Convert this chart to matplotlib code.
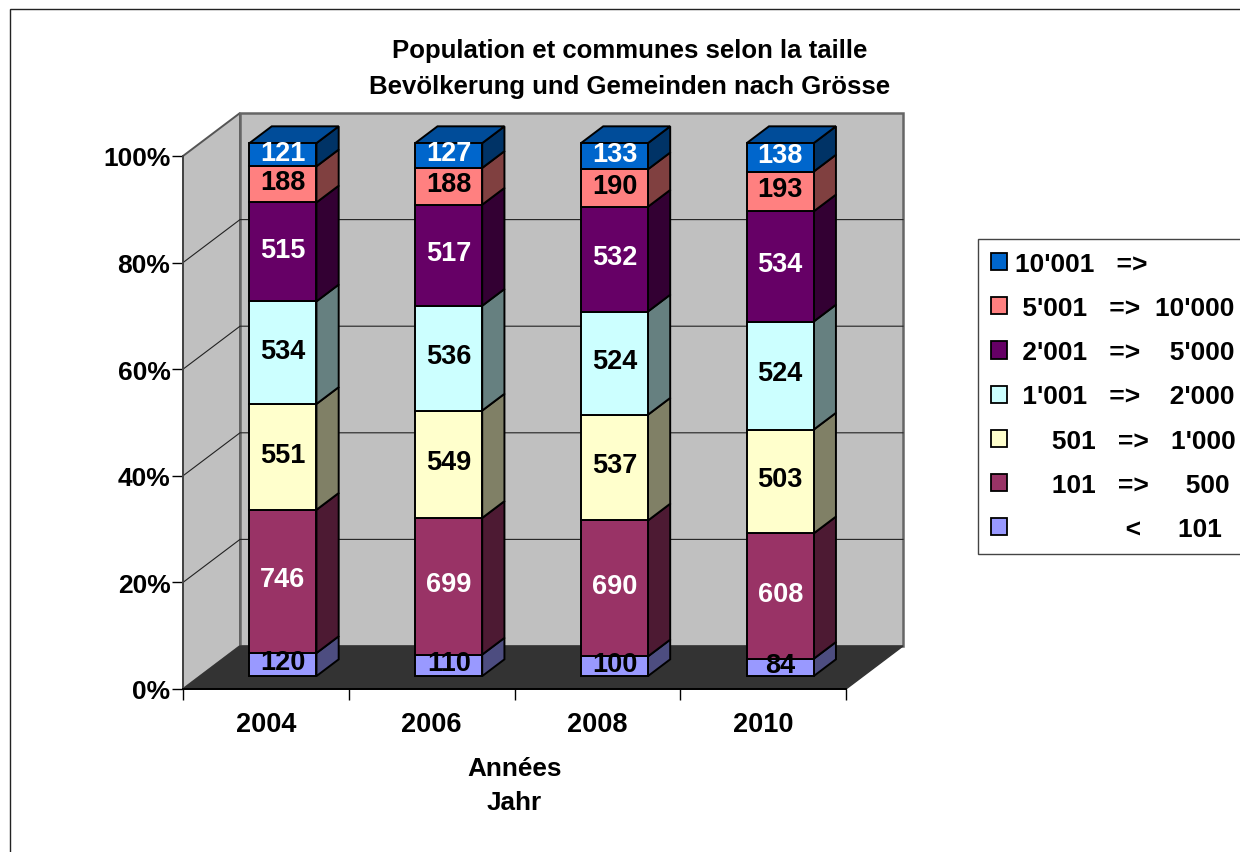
import matplotlib
matplotlib.use('Agg')
import matplotlib.pyplot as plt
from matplotlib.patches import Polygon, Patch, Rectangle

plt.rcParams['font.family'] = ['Liberation Sans', 'DejaVu Sans']
plt.rcParams['font.weight'] = 'bold'

years = ['2004', '2006', '2008', '2010']
legend_labels = ["               <     101",
                 "     101   =>     500",
                 "     501   =>   1'000",
                 " 1'001   =>    2'000",
                 " 2'001   =>    5'000",
                 " 5'001   =>  10'000",
                 "10'001   =>"]
under_101 = [120, 110, 100, 84]
to_500 = [746, 699, 690, 608]
to_1000 = [551, 549, 537, 503]
to_2000 = [534, 536, 524, 524]
to_5000 = [515, 517, 532, 534]
to_10000 = [188, 188, 190, 193]
over_10000 = [121, 127, 133, 138]
series = [under_101, to_500, to_1000, to_2000, to_5000, to_10000, over_10000]

front = ['#9999FF', '#993366', '#FFFFCC', '#CCFFFF', '#660066', '#FF8080', '#0066CC']
side = ['#4D4D80', '#4D1A33', '#808066', '#668080', '#330033', '#804040', '#003366']
top_color = '#004C99'
text_colors = ['black', 'white', 'black', 'black', 'white', 'black', 'white']

fig = plt.figure(figsize=(12.4, 8.53), dpi=100)
ax = fig.add_axes([183 / 1240, (853 - 690) / 853, 663 / 1240, 533 / 853])
ax.set_xlim(0, 4)
ax.set_ylim(0, 100)

# oblique depth, in data units
DX = 57 / (663 / 4)
DY = 43 / (533 / 100)


def proj(x, y, d):
    return (x + d * DX, y + d * DY)


def poly(pts, color, edge='black', lw=1.4, z=3):
    ax.add_patch(Polygon(pts, closed=True, facecolor=color, edgecolor=edge, linewidth=lw,
                         clip_on=False, zorder=z, joinstyle='miter'))


# chart border, runs off the right and bottom
fig.add_artist(Rectangle((10 / 1240, -0.02), 1.1, (843 / 853) + 0.02, transform=fig.transFigure,
                         facecolor='none', edgecolor='#222222', linewidth=1.0))

# walls and floor
poly([proj(0, 0, 0), proj(0, 0, 1), proj(0, 100, 1), proj(0, 100, 0)], '#C0C0C0', '#555555', 1.4, 1)
poly([proj(0, 0, 1), proj(4, 0, 1), proj(4, 100, 1), proj(0, 100, 1)], '#C0C0C0', '#666666', 1.8, 1)
poly([proj(0, 0, 0), proj(4, 0, 0), proj(4, 0, 1), proj(0, 0, 1)], '#333333', '#333333', 1.0, 1.5)
for g in [20, 40, 60, 80]:
    ax.plot(*zip(proj(0, g, 0), proj(0, g, 1), proj(4, g, 1)), color='#222222', lw=0.8,
            clip_on=False, zorder=1.2)

bar_w = 0.404
d0, d1 = 0.3, 0.69
for i in range(len(years)):
    total = sum(s[i] for s in series)
    left = i + 0.5 - bar_w / 2
    right = i + 0.5 + bar_w / 2
    bottom = 0
    for k, s in enumerate(series):
        h = s[i] / total * 100
        y0, y1 = bottom, bottom + h
        poly([proj(right, y0, d0), proj(right, y0, d1), proj(right, y1, d1), proj(right, y1, d0)], side[k])
        poly([proj(left, y0, d0), proj(right, y0, d0), proj(right, y1, d0), proj(left, y1, d0)], front[k], z=3.5)
        if k == len(series) - 1:
            poly([proj(left, y1, d0), proj(right, y1, d0), proj(right, y1, d1), proj(left, y1, d1)], top_color)
        tx, ty = proj(i + 0.5, (y0 + y1) / 2 + 0.4, d0)
        ax.text(tx, ty, str(s[i]), color=text_colors[k], ha='center', va='center', fontsize=19.5,
                fontweight='bold', zorder=5, clip_on=False)
        bottom = y1

ax.set_facecolor('none')
ax.spines['top'].set_visible(False)
ax.spines['right'].set_visible(False)
ax.spines['left'].set_color('#444444')
ax.spines['left'].set_linewidth(1.4)
ax.spines['bottom'].set_color('black')
ax.spines['bottom'].set_linewidth(1.4)
for sp in ax.spines.values():
    sp.set_zorder(2)

ax.set_yticks([0, 20, 40, 60, 80, 100])
ax.set_yticklabels(['0%', '20%', '40%', '60%', '80%', '100%'], fontsize=19, fontweight='bold')
ax.set_xticks([0, 1, 2, 3, 4])
ax.set_xticklabels([])
ax.set_xticks([0.5, 1.5, 2.5, 3.5], minor=True)
ax.set_xticklabels(years, minor=True, fontsize=19.5, fontweight='bold')
ax.tick_params(axis='x', which='minor', length=0, pad=15.5)
ax.tick_params(axis='x', which='major', length=8, width=1.0)
ax.tick_params(axis='y', length=8, width=1.0, pad=1)
ax.set_xlabel('Années\nJahr', fontsize=18.8, fontweight='bold', linespacing=1.55, labelpad=14)

fig.suptitle('Population et communes selon la taille\nBevölkerung und Gemeinden nach Grösse',
             x=630 / 1240, y=(853 - 39) / 853, fontsize=18.5, fontweight='bold', linespacing=1.64)

handles = [Patch(facecolor=c, edgecolor='black', linewidth=1.3) for c in front[::-1]]
leg = fig.legend(handles, legend_labels[::-1], loc='upper left',
                 bbox_to_anchor=(978 / 1240, (853 - 240) / 853), borderaxespad=0,
                 fontsize=19, frameon=True, fancybox=False, edgecolor='#444444', framealpha=1,
                 handlelength=0.62, handleheight=0.62, handletextpad=0.3, labelspacing=0.765,
                 borderpad=0.49)
leg.get_frame().set_linewidth(1.0)

fig.savefig('out.png', dpi=100)
